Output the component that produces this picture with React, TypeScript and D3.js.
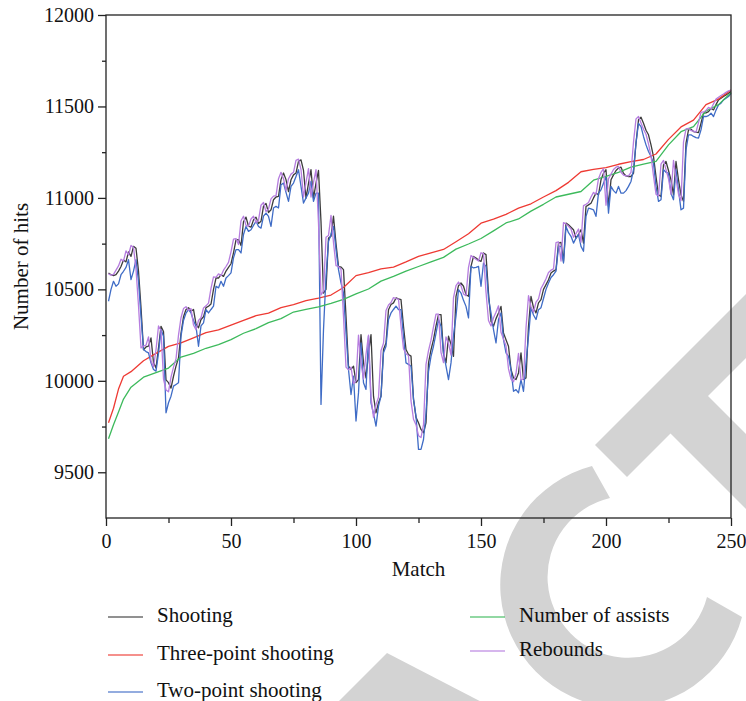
import { useEffect, useRef } from 'react';
import * as d3 from 'd3';

// match index for the dense series
const matches = d3.range(1, 251);

const shooting = [
  10590, 10580, 10575, 10580, 10600, 10625, 10660, 10650, 10705, 10680,
  10735, 10725, 10600, 10400, 10170, 10185, 10190, 10235, 10100, 10070,
  10180, 10298, 10270, 10005, 9990, 9960, 10025, 10080, 10125, 10260,
  10350, 10390, 10400, 10380, 10390, 10310, 10290, 10335, 10350, 10400,
  10408, 10420, 10500, 10562, 10562, 10580, 10571, 10600, 10620, 10640,
  10700, 10770, 10772, 10740, 10870, 10895, 10845, 10840, 10880, 10895,
  10860, 10872, 10955, 10970, 10920, 10935, 10990, 11005, 11008, 11100,
  11136, 11100, 11035, 11099, 11126, 11136, 11200, 11208, 11150, 10999,
  11080, 11154, 10999, 11081, 11150, 10870, 10480, 10500, 10780, 10790,
  10900, 10750, 10626, 10622, 10608, 10353, 10080, 10062, 10080, 9990,
  10007, 10253, 10100, 10016, 10150, 10253, 9916, 9825, 9880, 9916,
  10171, 10207, 10389, 10417, 10426, 10453, 10448, 10444, 10298, 10171,
  10144, 10135, 9900, 9800, 9771, 9734, 9716, 9770, 10098, 10170,
  10225, 10300, 10362, 10362, 10150, 10098, 10244, 10200, 10134, 10462,
  10520, 10535, 10517, 10471, 10462, 10626, 10680, 10671, 10660, 10653,
  10699, 10690, 10480, 10325, 10298, 10340, 10371, 10407, 10262, 10225,
  10189, 10062, 10016, 10007, 10043, 10153, 10007, 10016, 10298, 10462,
  10400, 10371, 10426, 10444, 10500, 10526, 10553, 10589, 10600, 10608,
  10753, 10757, 10653, 10862, 10853, 10840, 10826, 10780, 10800, 10826,
  10753, 10953, 10962, 10971, 11000, 11026, 11017, 11099, 11135, 11154,
  10953, 11099, 11126, 11150, 11163, 11168, 11135, 11120, 11117, 11117,
  11135, 11300, 11427, 11441, 11408, 11370, 11345, 11290, 11226, 11117,
  11017, 11008, 11181, 11199, 11150, 11099, 11017, 11199, 11099, 11017,
  10981, 11299, 11372, 11376, 11363, 11360, 11357, 11408, 11463, 11465,
  11472, 11490, 11481, 11510, 11536, 11545, 11555, 11563, 11572, 11581
];

const twoPoint = [
  10435, 10500, 10544, 10517, 10530, 10580, 10599, 10620, 10662, 10553,
  10600, 10662, 10544, 10350, 10171, 10160, 10153, 10098, 10062, 10053,
  10150, 10280, 10244, 9825, 9880, 9916, 9971, 9980, 9989, 10244,
  10330, 10370, 10389, 10371, 10330, 10298, 10189, 10300, 10317, 10389,
  10371, 10390, 10408, 10517, 10508, 10544, 10517, 10562, 10575, 10590,
  10672, 10717, 10717, 10699, 10800, 10844, 10817, 10826, 10850, 10872,
  10844, 10835, 10900, 10917, 10899, 10844, 10945, 10954, 10945, 11072,
  11081, 11030, 10981, 11063, 11081, 11117, 11154, 11063, 10972, 11000,
  11026, 11090, 10981, 11026, 11026, 9871, 10280, 10571, 10762, 10800,
  10844, 10717, 10608, 10535, 10480, 10262, 10062, 9925, 10025, 9780,
  9934, 10207, 9989, 9953, 10244, 9880, 9820, 9752, 9862, 9916,
  10153, 10189, 10335, 10371, 10390, 10408, 10389, 10389, 10244, 10098,
  10090, 10080, 9900, 9807, 9625, 9625, 9679, 9825, 10050, 10134,
  10189, 10260, 10335, 10298, 10150, 10080, 10007, 10098, 10250, 10353,
  10498, 10480, 10440, 10407, 10344, 10626, 10617, 10620, 10626, 10517,
  10644, 10626, 10450, 10371, 10280, 10207, 10335, 10371, 10225, 10153,
  10134, 10060, 9943, 9952, 9934, 10007, 9943, 10100, 10244, 10400,
  10360, 10335, 10389, 10400, 10450, 10500, 10535, 10565, 10580, 10600,
  10735, 10735, 10644, 10844, 10810, 10790, 10753, 10780, 10799, 10735,
  10708, 10899, 10944, 10940, 10935, 10899, 11026, 11044, 11080, 11117,
  10917, 11063, 11040, 11026, 11063, 11026, 11026, 11040, 11063, 11090,
  11154, 11300, 11408, 11390, 11336, 11290, 11254, 11226, 11190, 11063,
  10981, 10990, 11154, 11140, 11135, 11026, 10990, 11154, 11044, 10935,
  10944, 11263, 11345, 11345, 11336, 11330, 11327, 11372, 11445, 11445,
  11450, 11463, 11445, 11480, 11508, 11518, 11536, 11545, 11554, 11572
];

const rebounds = [
  10585, 10578, 10582, 10605, 10628, 10665, 10655, 10710, 10688, 10740,
  10730, 10610, 10410, 10180, 10190, 10195, 10240, 10110, 10075, 10170,
  10300, 10275, 10010, 9950, 9940, 10020, 10075, 10120, 10250, 10345,
  10395, 10405, 10385, 10395, 10305, 10280, 10330, 10345, 10398, 10410,
  10425, 10505, 10568, 10565, 10585, 10575, 10605, 10625, 10648, 10705,
  10775, 10778, 10745, 10875, 10900, 10850, 10845, 10885, 10900, 10865,
  10878, 10960, 10975, 10925, 10940, 10995, 11010, 11012, 11105, 11140,
  11105, 11040, 11105, 11130, 11140, 11205, 11212, 11155, 11005, 11085,
  11160, 11005, 11085, 11155, 10860, 10470, 10490, 10785, 10795, 10905,
  10755, 10630, 10625, 10610, 10350, 10075, 10060, 10075, 9985, 10000,
  10250, 10095, 10010, 10145, 10250, 9910, 9800, 9870, 9910, 10165,
  10205, 10385, 10415, 10428, 10455, 10450, 10446, 10300, 10175, 10148,
  10138, 9890, 9790, 9760, 9700, 9690, 9760, 10090, 10165, 10222,
  10295, 10365, 10365, 10155, 10100, 10240, 10205, 10140, 10455, 10520,
  10540, 10520, 10475, 10465, 10620, 10685, 10675, 10665, 10655, 10700,
  10695, 10485, 10330, 10300, 10345, 10375, 10410, 10265, 10228, 10192,
  10065, 10010, 9995, 10040, 10150, 10005, 10010, 10290, 10465, 10405,
  10375, 10430, 10448, 10505, 10530, 10558, 10592, 10605, 10612, 10755,
  10760, 10655, 10865, 10858, 10845, 10830, 10785, 10805, 10830, 10758,
  10958, 10965, 10975, 11005, 11030, 11020, 11105, 11140, 11160, 10960,
  11105, 11130, 11155, 11168, 11172, 11140, 11125, 11120, 11120, 11140,
  11305, 11432, 11445, 11410, 11375, 11348, 11295, 11230, 11120, 11020,
  11010, 11185, 11205, 11155, 11105, 11020, 11205, 11105, 11020, 10985,
  11305, 11378, 11380, 11368, 11365, 11360, 11412, 11468, 11470, 11478,
  11495, 11486, 11515, 11540, 11550, 11560, 11568, 11577, 11585, 11590
];

// the two smooth series, read at fewer matches
const smoothMatches = [
  1, 3, 5, 7, 10, 15, 20, 25, 30, 35, 40, 45, 50, 55, 60, 65, 70, 75, 80, 85,
  90, 95, 100, 105, 110, 115, 120, 125, 130, 135, 140, 145, 150, 155, 160,
  165, 170, 175, 180, 185, 190, 195, 200, 205, 210, 215, 220, 225, 230, 235,
  240, 245, 250
];

const threePoint = [
  9771, 9850, 9955, 10025, 10050, 10110, 10150, 10188, 10207, 10235, 10264,
  10278, 10305, 10331, 10356, 10370, 10400, 10417, 10438, 10452, 10469,
  10510, 10575, 10592, 10612, 10622, 10650, 10680, 10700, 10718, 10760,
  10804, 10862, 10884, 10910, 10944, 10968, 11005, 11040, 11085, 11143,
  11156, 11165, 11184, 11198, 11210, 11240, 11320, 11388, 11425, 11510,
  11540, 11590
];

const assists = [
  9683, 9760, 9830, 9900, 9965, 10020, 10045, 10070, 10130, 10150, 10178,
  10198, 10225, 10260, 10285, 10318, 10340, 10376, 10390, 10404, 10423,
  10445, 10475, 10502, 10545, 10571, 10600, 10625, 10650, 10675, 10720,
  10748, 10778, 10820, 10863, 10885, 10928, 10965, 11005, 11020, 11035,
  11097, 11118, 11140, 11168, 11185, 11200, 11290, 11362, 11390, 11475,
  11510, 11575
];

const xTicks = [0, 50, 100, 150, 200, 250];
const xMinorTicks = [25, 75, 125, 175, 225];
const yTicks = [9500, 10000, 10500, 11000, 11500, 12000];
const yMinorTicks = [9750, 10250, 10750, 11250, 11750];

const seriesNames = ['Shooting', 'Three-point shooting', 'Two-point shooting', 'Number of assists', 'Rebounds'];

const colors: Record<string, string> = {
  Shooting: '#3c3c3c',
  'Three-point shooting': '#ee3a33',
  'Two-point shooting': '#3f6cc6',
  'Number of assists': '#3dba5c',
  Rebounds: '#b67ddf'
};

interface Series {
  name: string;
  xs: number[];
  ys: number[];
}

const series: Series[] = [
  { name: seriesNames[0], xs: matches, ys: shooting },
  { name: seriesNames[1], xs: smoothMatches, ys: threePoint },
  { name: seriesNames[2], xs: matches, ys: twoPoint },
  { name: seriesNames[3], xs: smoothMatches, ys: assists },
  { name: seriesNames[4], xs: matches, ys: rebounds }
];

const FONT = "'Liberation Serif', 'Times New Roman', serif";

export default function App() {
  const svgRef = useRef<SVGSVGElement>(null);

  useEffect(() => {
    if (!svgRef.current) return;

    const svg = d3.select(svgRef.current);
    svg.selectAll('*').remove();

    const width = 746;
    const height = 701;
    const left = 106;
    const right = 731;
    const top = 15;
    const bottom = 518;

    svg.attr('width', width).attr('height', height);

    // watermark behind everything
    const wm = svg.append('g').attr('fill', '#d3d3d3');
    wm.append('path').attr('d', 'M387,653 L329,711 L499,711 Z');
    wm.append('path').attr('d', 'M592,466 A123,123 0 1 0 742,617 L707,597 A81,81 0 1 1 610,498 Z');
    wm.append('path').attr(
      'd',
      'M595,445 L627,477 L670.5,433.5 L800,563 L800,488 L708,396 L800,304 L800,240 Z'
    );

    const x = d3.scaleLinear().domain([0, 250]).range([left, right]);
    const y = d3.scaleLinear().domain([9250, 12000]).range([bottom, top]);

    // lines
    const line = d3
      .line<[number, number]>()
      .x((d) => x(d[0]))
      .y((d) => y(d[1]));

    svg
      .append('g')
      .selectAll('path')
      .data(series)
      .enter()
      .append('path')
      .attr('d', (s) => line(s.xs.map((m, i) => [m, s.ys[i]] as [number, number])))
      .attr('fill', 'none')
      .attr('stroke', (s) => colors[s.name])
      .attr('stroke-width', 1.3)
      .attr('stroke-linejoin', 'round');

    // frame
    svg
      .append('rect')
      .attr('x', left)
      .attr('y', top)
      .attr('width', right - left)
      .attr('height', bottom - top)
      .attr('fill', 'none')
      .attr('stroke', '#222')
      .attr('stroke-width', 1.3);

    const styleAxis = (g: d3.Selection<SVGGElement, unknown, null, undefined>) => {
      g.attr('font-family', FONT).attr('font-size', 20);
      g.select('.domain').remove();
      g.selectAll('line').attr('stroke', '#222').attr('stroke-width', 1.3);
      g.selectAll('text').attr('fill', '#111');
    };

    // y axis
    svg
      .append('g')
      .attr('transform', `translate(${left},0)`)
      .call(d3.axisLeft(y).tickValues(yTicks).tickSize(8).tickPadding(4).tickFormat(d3.format('d')))
      .call(styleAxis);
    svg
      .append('g')
      .attr('transform', `translate(${left},0)`)
      .call(d3.axisLeft(y).tickValues(yMinorTicks).tickSize(4).tickFormat(() => ''))
      .call(styleAxis);

    // x axis
    svg
      .append('g')
      .attr('transform', `translate(0,${bottom})`)
      .call(d3.axisBottom(x).tickValues(xTicks).tickSize(8).tickPadding(8).tickFormat(d3.format('d')))
      .call(styleAxis);
    svg
      .append('g')
      .attr('transform', `translate(0,${bottom})`)
      .call(d3.axisBottom(x).tickValues(xMinorTicks).tickSize(5).tickFormat(() => ''))
      .call(styleAxis);

    // axis titles
    svg
      .append('text')
      .attr('x', (left + right) / 2)
      .attr('y', 576)
      .attr('text-anchor', 'middle')
      .attr('font-family', FONT)
      .attr('font-size', 21)
      .attr('fill', '#111')
      .text('Match');

    svg
      .append('text')
      .attr('transform', `translate(28,${(top + bottom) / 2}) rotate(-90)`)
      .attr('text-anchor', 'middle')
      .attr('font-family', FONT)
      .attr('font-size', 21)
      .attr('fill', '#111')
      .text('Number of hits');

    // legend
    const legendPos = [
      { lx: 108, ly: 617 },
      { lx: 108, ly: 655 },
      { lx: 108, ly: 692 },
      { lx: 470, ly: 617 },
      { lx: 470, ly: 651 }
    ];
    const legend = svg
      .append('g')
      .selectAll('g')
      .data(seriesNames)
      .enter()
      .append('g')
      .attr('transform', (_, i) => `translate(${legendPos[i].lx},${legendPos[i].ly})`);

    legend
      .append('line')
      .attr('x1', 0)
      .attr('x2', 35)
      .attr('stroke', (d) => colors[d])
      .attr('stroke-opacity', 0.75)
      .attr('stroke-width', 1.6);

    legend
      .append('text')
      .attr('x', 49)
      .attr('y', 5)
      .attr('font-family', FONT)
      .attr('font-size', 21)
      .attr('fill', '#111')
      .text((d) => d);
  }, []);

  return (
    <svg
      ref={svgRef}
      style={{ position: 'absolute', left: 0, top: 0, display: 'block', background: '#fff' }}
    ></svg>
  );
}
